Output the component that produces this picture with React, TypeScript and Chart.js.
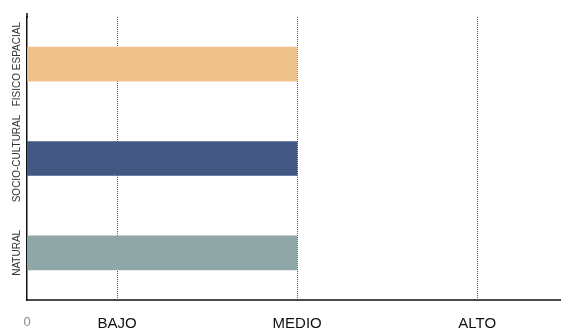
import React, { useEffect, useRef } from "react";
import { Chart, registerables } from "chart.js";

Chart.register(...registerables);

const categories = ["FISICO ESPACIAL", "SOCIO-CULTURAL", "NATURAL"];
const levelValues = [3, 3, 3];
const barColors = ["#F1C38C", "#425883", "#8FA7A6"];
const tickValues = [0, 1, 3, 5];
const tickLabels = ["0", "BAJO", "MEDIO", "ALTO"];
const axisMax = 5.93;

const FONT = "'Liberation Sans', Arial, sans-serif";

export default function App() {
  const ref = useRef<HTMLCanvasElement>(null);

  useEffect(() => {
    document.body.style.margin = "0";
    const canvas = ref.current;
    if (!canvas) return;

    const yLabelsPlugin = {
      id: "yLabels",
      afterDraw(chart: any) {
        const { ctx, chartArea, scales } = chart;
        const y = scales.y;
        ctx.save();
        ctx.strokeStyle = "#111";
        ctx.lineWidth = 1.5;
        ctx.beginPath();
        ctx.moveTo(chartArea.left, chartArea.top - 4);
        ctx.lineTo(chartArea.left, chartArea.top + 1);
        ctx.stroke();
        ctx.fillStyle = "#333";
        ctx.font = `10px ${FONT}`;
        ctx.textAlign = "center";
        ctx.textBaseline = "middle";
        categories.forEach((c, i) => {
          const py = y.getPixelForValue(i);
          ctx.save();
          ctx.translate(chartArea.left - 10, py);
          ctx.rotate(-Math.PI / 2);
          ctx.fillText(c, 0, 0);
          ctx.restore();
        });
        ctx.restore();
      },
    };

    const chart = new Chart(canvas, {
      type: "bar",
      data: {
        labels: categories,
        datasets: [
          {
            data: levelValues,
            backgroundColor: barColors,
            borderWidth: 0,
            barThickness: 34,
          },
        ],
      },
      options: {
        indexAxis: "y",
        responsive: false,
        animation: false,
        layout: { padding: { top: 17, left: 0, right: 0, bottom: 0 } },
        plugins: { legend: { display: false }, tooltip: { enabled: false } },
        scales: {
          x: {
            type: "linear",
            min: 0,
            max: axisMax,
            afterBuildTicks: (scale: any) => {
              scale.ticks = tickValues.map((v) => ({ value: v }));
            },
            afterFit: (scale: any) => {
              scale.height = 31;
            },
            ticks: {
              autoSkip: false,
              maxRotation: 0,
              padding: 15,
              callback: (v: any) => {
                const i = tickValues.indexOf(Number(v));
                return i >= 0 ? tickLabels[i] : "";
              },
              color: (ctx: any) => (ctx.tick && ctx.tick.value === 0 ? "#8a8a8a" : "#111"),
              font: (ctx: any) => ({
                family: FONT,
                size: ctx.tick && ctx.tick.value === 0 ? 13 : 15,
              }),
            },
            grid: {
              drawTicks: false,
              lineWidth: 1,
              color: (ctx: any) => (ctx.tick && ctx.tick.value === 0 ? "rgba(0,0,0,0)" : "#555"),
            },
            border: { display: true, color: "#4a4a4a", width: 2, dash: [1, 1] },
          },
          y: {
            type: "category",
            afterFit: (scale: any) => {
              scale.width = 27;
            },
            ticks: { display: false },
            grid: { display: false, drawTicks: false },
            border: { display: true, color: "#111", width: 1.5 },
          },
        },
      },
      plugins: [yLabelsPlugin],
    });

    return () => chart.destroy();
  }, []);

  return (
    <div style={{ width: 561, height: 331, background: "#fff" }}>
      <canvas ref={ref} width={561} height={331} />
    </div>
  );
}
